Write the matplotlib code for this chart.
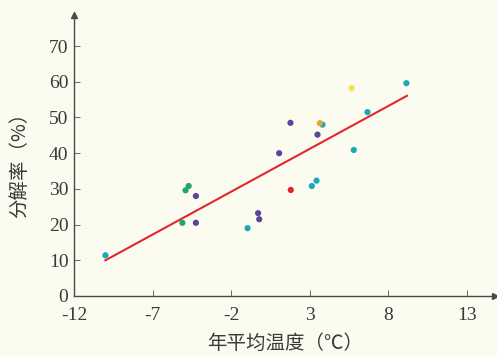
import matplotlib
matplotlib.use("Agg")
import matplotlib.pyplot as plt
import numpy as np

plt.rcParams["axes.unicode_minus"] = False

# scatter points, grouped by colour
TEAL_X = [-10.0, -0.95, 3.14, 3.44, 3.82, 5.81, 6.68, 9.16]
TEAL_Y = [11.4, 19.0, 30.8, 32.3, 48.0, 40.9, 51.5, 59.6]
GREEN_X = [-4.9, -4.7, -5.1]
GREEN_Y = [29.6, 30.8, 20.5]
PURPLE_X = [-4.24, -4.24, -0.28, -0.21, 1.06, 1.78, 3.5]
PURPLE_Y = [28.0, 20.5, 23.2, 21.5, 40.0, 48.5, 45.2]
RED_X = [1.8]
RED_Y = [29.7]
YELLOW_X = [5.67]
YELLOW_Y = [58.2]
ORANGE_X = [3.65]
ORANGE_Y = [48.4]

# fitted line endpoints
FIT_X = [-10.0, 9.2]
FIT_SLOPE = 2.4
FIT_INTERCEPT = 34.0

X_TICKS = [-12, -7, -2, 3, 8, 13]
Y_TICKS = [0, 10, 20, 30, 40, 50, 60, 70]

BG = "#fcfbef"
AXC = "#4a4a4a"
TXT = "#3a3a3a"
CJK = ["Noto Sans CJK SC", "DejaVu Sans"]

fig = plt.figure(figsize=(4.97, 3.56), dpi=100, facecolor=BG)
ax = fig.add_axes([74 / 497, 60 / 356, 421 / 497, 281 / 356], facecolor=BG)

groups = [
    (TEAL_X, TEAL_Y, "#1ba8bb"),
    (GREEN_X, GREEN_Y, "#23a46a"),
    (PURPLE_X, PURPLE_Y, "#5a4697"),
    (RED_X, RED_Y, "#e1262b"),
    (YELLOW_X, YELLOW_Y, "#f3e34c"),
    (ORANGE_X, ORANGE_Y, "#eaa531"),
]
for xs, ys, c in groups:
    ax.scatter(xs, ys, s=20, color=c, edgecolors="none", zorder=3)

fx = np.array(FIT_X)
ax.plot(fx, FIT_SLOPE * fx + FIT_INTERCEPT, color="#e3262b", lw=1.5, zorder=2)

ax.set_xlim(-12, 14.8)
ax.set_ylim(0, 78.7)
ax.set_xticks(X_TICKS)
ax.set_yticks(Y_TICKS)
for s in ["top", "right"]:
    ax.spines[s].set_visible(False)
for s in ["left", "bottom"]:
    ax.spines[s].set_color(AXC)
    ax.spines[s].set_linewidth(1.0)
ax.tick_params(direction="in", length=4, width=0.7, color="#6a6a6a",
               labelcolor=TXT, labelsize=14)
ax.tick_params(axis="x", pad=8)
ax.tick_params(axis="y", pad=4)
for lab in ax.get_xticklabels() + ax.get_yticklabels():
    lab.set_family("Liberation Serif")

# arrow heads on the axes
ax.plot(1, 0, ">", color=AXC, ms=5, transform=ax.transAxes, clip_on=False)
ax.plot(0, 1, "^", color=AXC, ms=5, transform=ax.transAxes, clip_on=False)

ax.set_xlabel("年平均温度（℃）", family=CJK, fontsize=14, color=TXT)
ax.xaxis.set_label_coords(285 / 497, 1 - 343 / 356, transform=fig.transFigure)
ax.xaxis.label.set_va("center")
ax.set_ylabel("分解率（%）", family=CJK, fontsize=14, color=TXT)
ax.yaxis.set_label_coords(20 / 497, 1 - 160 / 356, transform=fig.transFigure)
ax.yaxis.label.set_va("center")

fig.savefig("out.png", dpi=100, facecolor=BG)
